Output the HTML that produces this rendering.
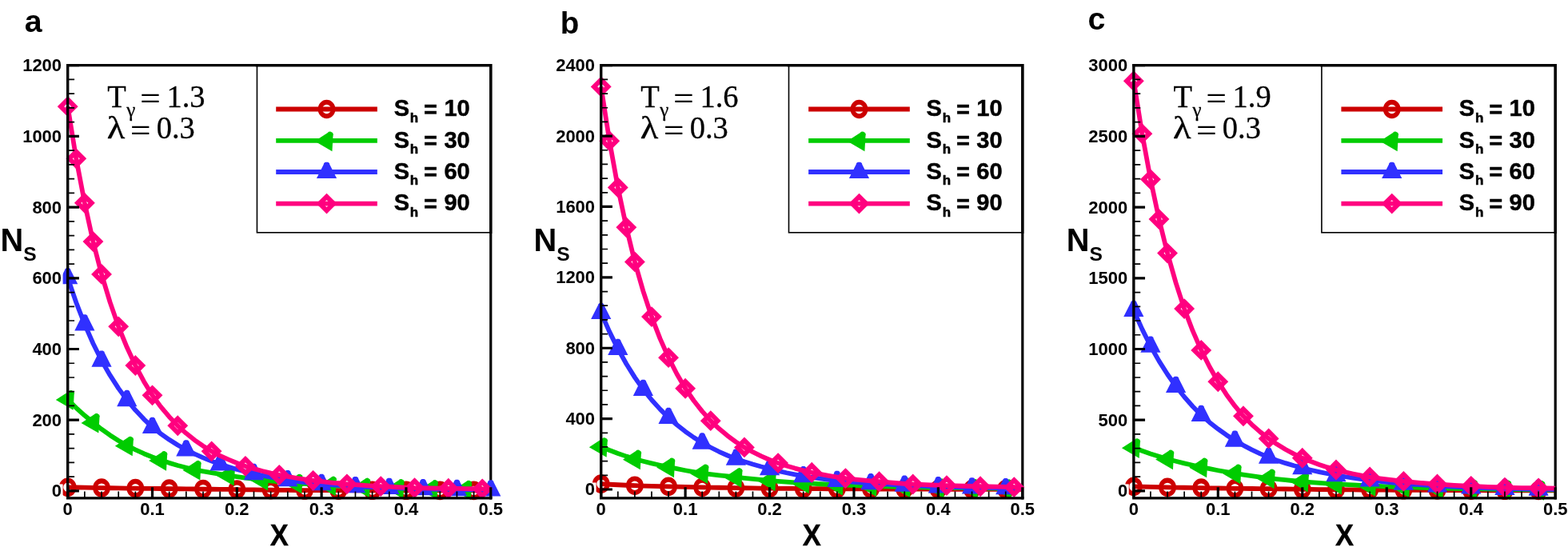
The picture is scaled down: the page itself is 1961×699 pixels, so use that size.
<!DOCTYPE html>
<html lang="en">
<head>
<meta charset="utf-8">
<title>Ns versus X</title>
<style>html,body{margin:0;padding:0;background:#fff;}svg{display:block;}</style>
</head>
<body>
<svg width="1961" height="699" viewBox="0 0 1961 699">
<rect x="0" y="0" width="1961" height="699" fill="#ffffff"/>
<g>
<path d="M83.1,81.7 H613.75 V624.5" fill="none" stroke="#000" stroke-width="3.2" stroke-linejoin="miter"/>
<path d="M84.7,609.29L95.28,609.5L105.86,609.71L116.44,609.9L127.02,610.09L137.61,610.24L148.19,610.39L158.77,610.53L169.35,610.66L179.93,610.78L190.51,610.89L201.09,611L211.67,611.11L222.25,611.24L232.83,611.36L243.41,611.48L254,611.59L264.58,611.73L275.16,611.85L285.74,611.97L296.32,612.08L306.9,612.28L317.48,612.45L328.06,612.61L338.64,612.75L349.22,612.83L359.81,612.91L370.39,612.99L380.97,613.06L391.55,613.09L402.13,613.13L412.71,613.16L423.29,613.19L433.87,613.21L444.45,613.24L455.03,613.26L465.62,613.28L476.2,613.29L486.78,613.3L497.36,613.31L507.94,613.32L518.52,613.33L529.1,613.35L539.68,613.36L550.26,613.37L560.85,613.38L571.43,613.39L582.01,613.4L592.59,613.41L603.17,613.43L613.75,613.46" fill="none" stroke="#cc0000" stroke-width="5.8" stroke-linejoin="round" stroke-linecap="butt"/>
<path transform="translate(84.7,609.29)" d="M-10.9,0A10.9,11.8 0 1 0 10.9,0A10.9,11.8 0 1 0 -10.9,0ZM-5.5,0A5.5,5.7 0 1 1 5.5,0A5.5,5.7 0 1 1 -5.5,0Z" fill="#cc0000" fill-rule="evenodd"/>
<path transform="translate(127.02,610.09)" d="M-10.9,0A10.9,11.8 0 1 0 10.9,0A10.9,11.8 0 1 0 -10.9,0ZM-5.5,0A5.5,5.7 0 1 1 5.5,0A5.5,5.7 0 1 1 -5.5,0Z" fill="#cc0000" fill-rule="evenodd"/>
<path transform="translate(169.35,610.66)" d="M-10.9,0A10.9,11.8 0 1 0 10.9,0A10.9,11.8 0 1 0 -10.9,0ZM-5.5,0A5.5,5.7 0 1 1 5.5,0A5.5,5.7 0 1 1 -5.5,0Z" fill="#cc0000" fill-rule="evenodd"/>
<path transform="translate(211.67,611.11)" d="M-10.9,0A10.9,11.8 0 1 0 10.9,0A10.9,11.8 0 1 0 -10.9,0ZM-5.5,0A5.5,5.7 0 1 1 5.5,0A5.5,5.7 0 1 1 -5.5,0Z" fill="#cc0000" fill-rule="evenodd"/>
<path transform="translate(254,611.59)" d="M-10.9,0A10.9,11.8 0 1 0 10.9,0A10.9,11.8 0 1 0 -10.9,0ZM-5.5,0A5.5,5.7 0 1 1 5.5,0A5.5,5.7 0 1 1 -5.5,0Z" fill="#cc0000" fill-rule="evenodd"/>
<path transform="translate(296.32,612.08)" d="M-10.9,0A10.9,11.8 0 1 0 10.9,0A10.9,11.8 0 1 0 -10.9,0ZM-5.5,0A5.5,5.7 0 1 1 5.5,0A5.5,5.7 0 1 1 -5.5,0Z" fill="#cc0000" fill-rule="evenodd"/>
<path transform="translate(338.64,612.75)" d="M-10.9,0A10.9,11.8 0 1 0 10.9,0A10.9,11.8 0 1 0 -10.9,0ZM-5.5,0A5.5,5.7 0 1 1 5.5,0A5.5,5.7 0 1 1 -5.5,0Z" fill="#cc0000" fill-rule="evenodd"/>
<path transform="translate(380.97,613.06)" d="M-10.9,0A10.9,11.8 0 1 0 10.9,0A10.9,11.8 0 1 0 -10.9,0ZM-5.5,0A5.5,5.7 0 1 1 5.5,0A5.5,5.7 0 1 1 -5.5,0Z" fill="#cc0000" fill-rule="evenodd"/>
<path transform="translate(423.29,613.19)" d="M-10.9,0A10.9,11.8 0 1 0 10.9,0A10.9,11.8 0 1 0 -10.9,0ZM-5.5,0A5.5,5.7 0 1 1 5.5,0A5.5,5.7 0 1 1 -5.5,0Z" fill="#cc0000" fill-rule="evenodd"/>
<path transform="translate(465.62,613.28)" d="M-10.9,0A10.9,11.8 0 1 0 10.9,0A10.9,11.8 0 1 0 -10.9,0ZM-5.5,0A5.5,5.7 0 1 1 5.5,0A5.5,5.7 0 1 1 -5.5,0Z" fill="#cc0000" fill-rule="evenodd"/>
<path transform="translate(507.94,613.32)" d="M-10.9,0A10.9,11.8 0 1 0 10.9,0A10.9,11.8 0 1 0 -10.9,0ZM-5.5,0A5.5,5.7 0 1 1 5.5,0A5.5,5.7 0 1 1 -5.5,0Z" fill="#cc0000" fill-rule="evenodd"/>
<path transform="translate(550.26,613.37)" d="M-10.9,0A10.9,11.8 0 1 0 10.9,0A10.9,11.8 0 1 0 -10.9,0ZM-5.5,0A5.5,5.7 0 1 1 5.5,0A5.5,5.7 0 1 1 -5.5,0Z" fill="#cc0000" fill-rule="evenodd"/>
<path transform="translate(592.59,613.41)" d="M-10.9,0A10.9,11.8 0 1 0 10.9,0A10.9,11.8 0 1 0 -10.9,0ZM-5.5,0A5.5,5.7 0 1 1 5.5,0A5.5,5.7 0 1 1 -5.5,0Z" fill="#cc0000" fill-rule="evenodd"/>
<path d="M84.7,499.48L95.28,510.03L105.86,519.61L116.44,528.3L127.02,536.66L137.61,544.19L148.19,550.99L158.77,557.13L169.35,562.42L179.93,567.21L190.51,571.55L201.09,575.49L211.67,578.86L222.25,581.93L232.83,584.73L243.41,587.29L254,589.28L264.58,591.11L275.16,592.81L285.74,594.39L296.32,596.02L306.9,597.52L317.48,598.89L328.06,600.15L338.64,601.28L349.22,602.32L359.81,603.27L370.39,604.14L380.97,604.96L391.55,605.71L402.13,606.4L412.71,607.03L423.29,607.59L433.87,608.11L444.45,608.58L455.03,609.02L465.62,609.42L476.2,609.79L486.78,610.13L497.36,610.44L507.94,610.72L518.52,610.97L529.1,611.2L539.68,611.42L550.26,611.62L560.84,611.8L571.43,611.97L582.01,612.13L592.59,612.25L603.17,612.37L613.75,612.48" fill="none" stroke="#00cc00" stroke-width="5.8" stroke-linejoin="round" stroke-linecap="butt"/>
<path transform="translate(84.7,499.48) rotate(30)" d="M-12.6,8L12.6,8L3.84,-9.35L3.4,-10.9L1.6,-12.3L-1.6,-12.3L-3.4,-10.9L-3.84,-9.35Z" fill="#00cc00"/>
<path transform="translate(116.44,528.3) rotate(30)" d="M-12.6,8L12.6,8L3.84,-9.35L3.4,-10.9L1.6,-12.3L-1.6,-12.3L-3.4,-10.9L-3.84,-9.35Z" fill="#00cc00"/>
<path transform="translate(158.77,557.13) rotate(30)" d="M-12.6,8L12.6,8L3.84,-9.35L3.4,-10.9L1.6,-12.3L-1.6,-12.3L-3.4,-10.9L-3.84,-9.35Z" fill="#00cc00"/>
<path transform="translate(201.09,575.49) rotate(30)" d="M-12.6,8L12.6,8L3.84,-9.35L3.4,-10.9L1.6,-12.3L-1.6,-12.3L-3.4,-10.9L-3.84,-9.35Z" fill="#00cc00"/>
<path transform="translate(243.41,587.29) rotate(30)" d="M-12.6,8L12.6,8L3.84,-9.35L3.4,-10.9L1.6,-12.3L-1.6,-12.3L-3.4,-10.9L-3.84,-9.35Z" fill="#00cc00"/>
<path transform="translate(285.74,594.39) rotate(30)" d="M-12.6,8L12.6,8L3.84,-9.35L3.4,-10.9L1.6,-12.3L-1.6,-12.3L-3.4,-10.9L-3.84,-9.35Z" fill="#00cc00"/>
<path transform="translate(328.06,600.15) rotate(30)" d="M-12.6,8L12.6,8L3.84,-9.35L3.4,-10.9L1.6,-12.3L-1.6,-12.3L-3.4,-10.9L-3.84,-9.35Z" fill="#00cc00"/>
<path transform="translate(370.39,604.14) rotate(30)" d="M-12.6,8L12.6,8L3.84,-9.35L3.4,-10.9L1.6,-12.3L-1.6,-12.3L-3.4,-10.9L-3.84,-9.35Z" fill="#00cc00"/>
<path transform="translate(412.71,607.03) rotate(30)" d="M-12.6,8L12.6,8L3.84,-9.35L3.4,-10.9L1.6,-12.3L-1.6,-12.3L-3.4,-10.9L-3.84,-9.35Z" fill="#00cc00"/>
<path transform="translate(455.03,609.02) rotate(30)" d="M-12.6,8L12.6,8L3.84,-9.35L3.4,-10.9L1.6,-12.3L-1.6,-12.3L-3.4,-10.9L-3.84,-9.35Z" fill="#00cc00"/>
<path transform="translate(497.36,610.44) rotate(30)" d="M-12.6,8L12.6,8L3.84,-9.35L3.4,-10.9L1.6,-12.3L-1.6,-12.3L-3.4,-10.9L-3.84,-9.35Z" fill="#00cc00"/>
<path transform="translate(539.68,611.42) rotate(30)" d="M-12.6,8L12.6,8L3.84,-9.35L3.4,-10.9L1.6,-12.3L-1.6,-12.3L-3.4,-10.9L-3.84,-9.35Z" fill="#00cc00"/>
<path transform="translate(582.01,612.13) rotate(30)" d="M-12.6,8L12.6,8L3.84,-9.35L3.4,-10.9L1.6,-12.3L-1.6,-12.3L-3.4,-10.9L-3.84,-9.35Z" fill="#00cc00"/>
<path d="M84.7,347.36L95.28,378.19L105.86,405.45L116.44,429.46L127.02,450.69L137.61,469.19L148.19,485.6L158.77,500.14L169.35,512.81L179.93,524.07L190.51,534.07L201.09,542.37L211.67,549.81L222.25,556.48L232.83,562.45L243.42,567.69L254,572.4L264.58,576.62L275.16,580.42L285.74,583.85L296.32,586.92L306.9,589.69L317.48,592.17L328.06,594.6L338.64,596.75L349.22,598.67L359.81,600.37L370.39,601.77L380.97,603.03L391.55,604.15L402.13,605.16L412.71,606.06L423.29,606.86L433.87,607.58L444.45,608.22L455.03,608.73L465.62,609.19L476.2,609.61L486.78,610L497.36,610.37L507.94,610.7L518.52,611.01L529.1,611.28L539.68,611.53L550.26,611.75L560.85,611.94L571.43,612.13L582.01,612.25L592.59,612.36L603.17,612.47L613.75,612.57" fill="none" stroke="#3030ff" stroke-width="5.8" stroke-linejoin="round" stroke-linecap="butt"/>
<path transform="translate(84.7,347.36)" d="M-12.6,8L12.6,8L3.84,-9.35L3.4,-10.9L1.6,-12.3L-1.6,-12.3L-3.4,-10.9L-3.84,-9.35Z" fill="#3030ff"/>
<path transform="translate(105.86,405.46)" d="M-12.6,8L12.6,8L3.84,-9.35L3.4,-10.9L1.6,-12.3L-1.6,-12.3L-3.4,-10.9L-3.84,-9.35Z" fill="#3030ff"/>
<path transform="translate(127.02,450.69)" d="M-12.6,8L12.6,8L3.84,-9.35L3.4,-10.9L1.6,-12.3L-1.6,-12.3L-3.4,-10.9L-3.84,-9.35Z" fill="#3030ff"/>
<path transform="translate(158.77,500.14)" d="M-12.6,8L12.6,8L3.84,-9.35L3.4,-10.9L1.6,-12.3L-1.6,-12.3L-3.4,-10.9L-3.84,-9.35Z" fill="#3030ff"/>
<path transform="translate(190.51,534.07)" d="M-12.6,8L12.6,8L3.84,-9.35L3.4,-10.9L1.6,-12.3L-1.6,-12.3L-3.4,-10.9L-3.84,-9.35Z" fill="#3030ff"/>
<path transform="translate(232.83,562.45)" d="M-12.6,8L12.6,8L3.84,-9.35L3.4,-10.9L1.6,-12.3L-1.6,-12.3L-3.4,-10.9L-3.84,-9.35Z" fill="#3030ff"/>
<path transform="translate(275.16,580.42)" d="M-12.6,8L12.6,8L3.84,-9.35L3.4,-10.9L1.6,-12.3L-1.6,-12.3L-3.4,-10.9L-3.84,-9.35Z" fill="#3030ff"/>
<path transform="translate(317.48,592.17)" d="M-12.6,8L12.6,8L3.84,-9.35L3.4,-10.9L1.6,-12.3L-1.6,-12.3L-3.4,-10.9L-3.84,-9.35Z" fill="#3030ff"/>
<path transform="translate(359.81,600.37)" d="M-12.6,8L12.6,8L3.84,-9.35L3.4,-10.9L1.6,-12.3L-1.6,-12.3L-3.4,-10.9L-3.84,-9.35Z" fill="#3030ff"/>
<path transform="translate(402.13,605.16)" d="M-12.6,8L12.6,8L3.84,-9.35L3.4,-10.9L1.6,-12.3L-1.6,-12.3L-3.4,-10.9L-3.84,-9.35Z" fill="#3030ff"/>
<path transform="translate(444.45,608.22)" d="M-12.6,8L12.6,8L3.84,-9.35L3.4,-10.9L1.6,-12.3L-1.6,-12.3L-3.4,-10.9L-3.84,-9.35Z" fill="#3030ff"/>
<path transform="translate(486.78,610)" d="M-12.6,8L12.6,8L3.84,-9.35L3.4,-10.9L1.6,-12.3L-1.6,-12.3L-3.4,-10.9L-3.84,-9.35Z" fill="#3030ff"/>
<path transform="translate(529.1,611.28)" d="M-12.6,8L12.6,8L3.84,-9.35L3.4,-10.9L1.6,-12.3L-1.6,-12.3L-3.4,-10.9L-3.84,-9.35Z" fill="#3030ff"/>
<path transform="translate(571.43,612.13)" d="M-12.6,8L12.6,8L3.84,-9.35L3.4,-10.9L1.6,-12.3L-1.6,-12.3L-3.4,-10.9L-3.84,-9.35Z" fill="#3030ff"/>
<path transform="translate(613.75,612.57)" d="M-12.6,8L12.6,8L3.84,-9.35L3.4,-10.9L1.6,-12.3L-1.6,-12.3L-3.4,-10.9L-3.84,-9.35Z" fill="#3030ff"/>
<path d="M84.7,133.15L95.28,198.34L105.86,253.78L116.44,302.12L127.02,342.92L137.61,377.89L148.19,408.34L158.77,434.33L169.35,457.03L179.93,476.95L190.51,494.33L201.09,508.63L211.67,521.21L222.25,532.3L232.83,541.85L243.42,550.29L254,557.74L264.58,564.32L275.16,569.81L285.74,574.69L296.32,579.04L306.9,582.9L317.48,586.13L328.06,589.03L338.64,591.62L349.22,593.94L359.81,595.94L370.39,597.74L380.97,599.36L391.55,600.82L402.13,602.13L412.71,603.32L423.29,604.38L433.87,605.34L444.45,606.15L455.03,606.88L465.62,607.54L476.2,608.13L486.78,608.72L497.36,609.24L507.94,609.71L518.52,610.13L529.1,610.31L539.68,610.48L550.26,610.64L560.85,610.8L571.43,610.96L582.01,611.12L592.59,611.27L603.17,611.42L613.75,611.51" fill="none" stroke="#ff007f" stroke-width="5.8" stroke-linejoin="round" stroke-linecap="butt"/>
<path transform="translate(84.7,133.15)" d="M0,-8.7L8.7,0L0,8.7L-8.7,0Z" fill="none" stroke="#ff007f" stroke-width="6" stroke-linejoin="miter"/>
<path transform="translate(95.28,198.34)" d="M0,-8.7L8.7,0L0,8.7L-8.7,0Z" fill="none" stroke="#ff007f" stroke-width="6" stroke-linejoin="miter"/>
<path transform="translate(105.86,253.78)" d="M0,-8.7L8.7,0L0,8.7L-8.7,0Z" fill="none" stroke="#ff007f" stroke-width="6" stroke-linejoin="miter"/>
<path transform="translate(116.44,302.12)" d="M0,-8.7L8.7,0L0,8.7L-8.7,0Z" fill="none" stroke="#ff007f" stroke-width="6" stroke-linejoin="miter"/>
<path transform="translate(127.02,342.92)" d="M0,-8.7L8.7,0L0,8.7L-8.7,0Z" fill="none" stroke="#ff007f" stroke-width="6" stroke-linejoin="miter"/>
<path transform="translate(148.19,408.34)" d="M0,-8.7L8.7,0L0,8.7L-8.7,0Z" fill="none" stroke="#ff007f" stroke-width="6" stroke-linejoin="miter"/>
<path transform="translate(169.35,457.03)" d="M0,-8.7L8.7,0L0,8.7L-8.7,0Z" fill="none" stroke="#ff007f" stroke-width="6" stroke-linejoin="miter"/>
<path transform="translate(190.51,494.33)" d="M0,-8.7L8.7,0L0,8.7L-8.7,0Z" fill="none" stroke="#ff007f" stroke-width="6" stroke-linejoin="miter"/>
<path transform="translate(222.25,532.3)" d="M0,-8.7L8.7,0L0,8.7L-8.7,0Z" fill="none" stroke="#ff007f" stroke-width="6" stroke-linejoin="miter"/>
<path transform="translate(264.58,564.32)" d="M0,-8.7L8.7,0L0,8.7L-8.7,0Z" fill="none" stroke="#ff007f" stroke-width="6" stroke-linejoin="miter"/>
<path transform="translate(306.9,582.9)" d="M0,-8.7L8.7,0L0,8.7L-8.7,0Z" fill="none" stroke="#ff007f" stroke-width="6" stroke-linejoin="miter"/>
<path transform="translate(349.22,593.94)" d="M0,-8.7L8.7,0L0,8.7L-8.7,0Z" fill="none" stroke="#ff007f" stroke-width="6" stroke-linejoin="miter"/>
<path transform="translate(391.55,600.82)" d="M0,-8.7L8.7,0L0,8.7L-8.7,0Z" fill="none" stroke="#ff007f" stroke-width="6" stroke-linejoin="miter"/>
<path transform="translate(433.87,605.34)" d="M0,-8.7L8.7,0L0,8.7L-8.7,0Z" fill="none" stroke="#ff007f" stroke-width="6" stroke-linejoin="miter"/>
<path transform="translate(476.2,608.13)" d="M0,-8.7L8.7,0L0,8.7L-8.7,0Z" fill="none" stroke="#ff007f" stroke-width="6" stroke-linejoin="miter"/>
<path transform="translate(518.52,610.13)" d="M0,-8.7L8.7,0L0,8.7L-8.7,0Z" fill="none" stroke="#ff007f" stroke-width="6" stroke-linejoin="miter"/>
<path transform="translate(560.85,610.8)" d="M0,-8.7L8.7,0L0,8.7L-8.7,0Z" fill="none" stroke="#ff007f" stroke-width="6" stroke-linejoin="miter"/>
<path transform="translate(603.17,611.42)" d="M0,-8.7L8.7,0L0,8.7L-8.7,0Z" fill="none" stroke="#ff007f" stroke-width="6" stroke-linejoin="miter"/>
<path d="M84.7,80.1 V622.9 H615.45" fill="none" stroke="#000" stroke-width="3.4" stroke-linejoin="miter" stroke-linecap="butt"/>
<path d="M84.7,613.9h14.2M84.7,525.2h14.2M84.7,436.5h14.2M84.7,347.8h14.2M84.7,259.1h14.2M84.7,170.4h14.2M84.7,81.7h14.2M84.7,622.9v-13.7M190.51,622.9v-13.7M296.32,622.9v-13.7M402.13,622.9v-13.7M507.94,622.9v-13.7M613.75,622.9v-13.7" fill="none" stroke="#000" stroke-width="3.2"/>
<path d="M84.7,596.16h8.4M84.7,578.42h8.4M84.7,560.68h8.4M84.7,542.94h8.4M84.7,507.46h8.4M84.7,489.72h8.4M84.7,471.98h8.4M84.7,454.24h8.4M84.7,418.76h8.4M84.7,401.02h8.4M84.7,383.28h8.4M84.7,365.54h8.4M84.7,330.06h8.4M84.7,312.32h8.4M84.7,294.58h8.4M84.7,276.84h8.4M84.7,241.36h8.4M84.7,223.62h8.4M84.7,205.88h8.4M84.7,188.14h8.4M84.7,152.66h8.4M84.7,134.92h8.4M84.7,117.18h8.4M84.7,99.44h8.4M105.86,622.9v-8.3M127.02,622.9v-8.3M148.19,622.9v-8.3M169.35,622.9v-8.3M211.67,622.9v-8.3M232.83,622.9v-8.3M254,622.9v-8.3M275.16,622.9v-8.3M317.48,622.9v-8.3M338.64,622.9v-8.3M359.81,622.9v-8.3M380.97,622.9v-8.3M423.29,622.9v-8.3M444.45,622.9v-8.3M465.62,622.9v-8.3M486.78,622.9v-8.3M529.1,622.9v-8.3M550.26,622.9v-8.3M571.43,622.9v-8.3M592.59,622.9v-8.3" fill="none" stroke="#000" stroke-width="1.7"/>
<g font-family='"Liberation Sans", Arial, Helvetica, sans-serif' font-weight="bold" font-size="22px" fill="#000">
<rect x="64.3" y="605.4" width="14.3" height="17" fill="#fff"/>
<text x="77.1" y="621.35" text-anchor="end">0</text>
<rect x="39.7" y="516.7" width="38.9" height="17" fill="#fff"/>
<text x="77.1" y="532.65" text-anchor="end">200</text>
<rect x="39.7" y="428" width="38.9" height="17" fill="#fff"/>
<text x="77.1" y="443.95" text-anchor="end">400</text>
<rect x="39.7" y="339.3" width="38.9" height="17" fill="#fff"/>
<text x="77.1" y="355.25" text-anchor="end">600</text>
<rect x="39.7" y="250.6" width="38.9" height="17" fill="#fff"/>
<text x="77.1" y="266.55" text-anchor="end">800</text>
<rect x="27.4" y="161.9" width="51.2" height="17" fill="#fff"/>
<text x="77.1" y="177.85" text-anchor="end">1000</text>
<rect x="27.4" y="73.2" width="51.2" height="17" fill="#fff"/>
<text x="77.1" y="89.15" text-anchor="end">1200</text>
<text x="84.7" y="644.4" text-anchor="middle">0</text>
<text x="190.51" y="644.4" text-anchor="middle">0.1</text>
<text x="296.32" y="644.4" text-anchor="middle">0.2</text>
<text x="402.13" y="644.4" text-anchor="middle">0.3</text>
<text x="507.94" y="644.4" text-anchor="middle">0.4</text>
<text x="613.75" y="644.4" text-anchor="middle">0.5</text>
</g>
<text transform="translate(349.23,682.1) scale(0.96,1)" text-anchor="middle" font-family='"Liberation Sans", Arial, Helvetica, sans-serif' font-weight="bold" font-size="36px" fill="#000" stroke="#000" stroke-width="0.4">X</text>
<text x="0.5" y="313.5" font-family='"Liberation Sans", Arial, Helvetica, sans-serif' font-weight="bold" font-size="39.8px" fill="#000">N</text>
<text x="29.3" y="326.3" font-family='"Liberation Sans", Arial, Helvetica, sans-serif' font-weight="bold" font-size="24.6px" fill="#000">S</text>
<text x="30.85" y="40" font-family='"Liberation Sans", Arial, Helvetica, sans-serif' font-weight="bold" font-size="39.3px" fill="#000">a</text>
<g font-family='"Liberation Serif", "Times New Roman", Times, serif' font-size="40px" fill="#000" stroke="#000" stroke-width="0.3">
<text transform="translate(134.35,134) scale(0.9625,1)">T</text>
<text x="158.3" y="145.75" font-size="25px">γ</text>
<text transform="translate(175.3,136.4) scale(1.167,1)" font-size="38.5px">=</text>
<text transform="translate(208.4,134) scale(0.9625,1)">1.3</text>
<text transform="translate(133.8,172.9) scale(1.21,1.04)" font-size="38.5px">λ</text>
<text transform="translate(163.1,175.7) scale(1.167,1)" font-size="38.5px">=</text>
<text transform="translate(195.7,172.8) scale(0.9625,1)">0.3</text>
</g>
<rect x="321.45" y="82.5" width="291.5" height="208.3" fill="#fff" stroke="#000" stroke-width="1.6"/>
<path d="M319.45,81.7 H613.75 V292" fill="none" stroke="#000" stroke-width="3.2" stroke-linejoin="miter"/>
<path d="M345.2,136.5H471.85" stroke="#cc0000" stroke-width="5.8" fill="none"/>
<path transform="translate(408.52,136.5)" d="M-10.9,0A10.9,11.8 0 1 0 10.9,0A10.9,11.8 0 1 0 -10.9,0ZM-5.5,0A5.5,5.7 0 1 1 5.5,0A5.5,5.7 0 1 1 -5.5,0Z" fill="#cc0000" fill-rule="evenodd"/>
<g font-family='"Liberation Sans", Arial, Helvetica, sans-serif' font-weight="bold" font-size="29px" fill="#000" stroke="#000" stroke-width="0.5" stroke-linejoin="round">
<text x="492.65" y="145.2">S</text>
<text x="512.7" y="152.55" font-size="17px">h</text>
<text x="529.95" y="146.7">=</text>
<text x="555.4" y="145.2">10</text>
</g>
<path d="M345.2,175.9H471.85" stroke="#00cc00" stroke-width="5.8" fill="none"/>
<path transform="translate(408.52,175.9) rotate(30)" d="M-12.6,8L12.6,8L3.84,-9.35L3.4,-10.9L1.6,-12.3L-1.6,-12.3L-3.4,-10.9L-3.84,-9.35Z" fill="#00cc00"/>
<g font-family='"Liberation Sans", Arial, Helvetica, sans-serif' font-weight="bold" font-size="29px" fill="#000" stroke="#000" stroke-width="0.5" stroke-linejoin="round">
<text x="492.65" y="184.6">S</text>
<text x="512.7" y="191.95" font-size="17px">h</text>
<text x="529.95" y="186.1">=</text>
<text x="555.4" y="184.6">30</text>
</g>
<path d="M345.2,215H471.85" stroke="#3030ff" stroke-width="5.8" fill="none"/>
<path transform="translate(408.52,215)" d="M-12.6,8L12.6,8L3.84,-9.35L3.4,-10.9L1.6,-12.3L-1.6,-12.3L-3.4,-10.9L-3.84,-9.35Z" fill="#3030ff"/>
<g font-family='"Liberation Sans", Arial, Helvetica, sans-serif' font-weight="bold" font-size="29px" fill="#000" stroke="#000" stroke-width="0.5" stroke-linejoin="round">
<text x="492.65" y="223.7">S</text>
<text x="512.7" y="231.05" font-size="17px">h</text>
<text x="529.95" y="225.2">=</text>
<text x="555.4" y="223.7">60</text>
</g>
<path d="M345.2,254.6H471.85" stroke="#ff007f" stroke-width="5.8" fill="none"/>
<path transform="translate(408.52,254.6)" d="M0,-8.7L8.7,0L0,8.7L-8.7,0Z" fill="none" stroke="#ff007f" stroke-width="6" stroke-linejoin="miter"/>
<g font-family='"Liberation Sans", Arial, Helvetica, sans-serif' font-weight="bold" font-size="29px" fill="#000" stroke="#000" stroke-width="0.5" stroke-linejoin="round">
<text x="492.65" y="263.3">S</text>
<text x="512.7" y="270.65" font-size="17px">h</text>
<text x="529.95" y="264.8">=</text>
<text x="555.4" y="263.3">90</text>
</g>
</g>
<g>
<path d="M750.1,81.7 H1278.8 V624.5" fill="none" stroke="#000" stroke-width="3.2" stroke-linejoin="miter"/>
<path d="M751.7,605.15L762.24,605.73L772.78,606.27L783.33,606.76L793.87,607.21L804.41,607.54L814.95,607.84L825.49,608.13L836.04,608.4L846.58,608.68L857.12,608.94L867.66,609.17L878.2,609.39L888.75,609.59L899.29,609.77L909.83,609.94L920.37,610.1L930.91,610.26L941.46,610.41L952,610.55L962.54,610.67L973.08,610.78L983.62,610.88L994.17,610.97L1004.71,611.05L1015.25,611.12L1025.79,611.19L1036.33,611.26L1046.88,611.32L1057.42,611.37L1067.96,611.42L1078.5,611.47L1089.04,611.51L1099.59,611.55L1110.13,611.59L1120.67,611.62L1131.21,611.65L1141.75,611.67L1152.3,611.69L1162.84,611.72L1173.38,611.73L1183.92,611.75L1194.46,611.77L1205.01,611.79L1215.55,611.8L1226.09,611.81L1236.63,611.82L1247.17,611.84L1257.72,611.85L1268.26,611.86L1278.8,611.87" fill="none" stroke="#cc0000" stroke-width="5.8" stroke-linejoin="round" stroke-linecap="butt"/>
<path transform="translate(751.7,605.15)" d="M-10.9,0A10.9,11.8 0 1 0 10.9,0A10.9,11.8 0 1 0 -10.9,0ZM-5.5,0A5.5,5.7 0 1 1 5.5,0A5.5,5.7 0 1 1 -5.5,0Z" fill="#cc0000" fill-rule="evenodd"/>
<path transform="translate(793.87,607.21)" d="M-10.9,0A10.9,11.8 0 1 0 10.9,0A10.9,11.8 0 1 0 -10.9,0ZM-5.5,0A5.5,5.7 0 1 1 5.5,0A5.5,5.7 0 1 1 -5.5,0Z" fill="#cc0000" fill-rule="evenodd"/>
<path transform="translate(836.04,608.4)" d="M-10.9,0A10.9,11.8 0 1 0 10.9,0A10.9,11.8 0 1 0 -10.9,0ZM-5.5,0A5.5,5.7 0 1 1 5.5,0A5.5,5.7 0 1 1 -5.5,0Z" fill="#cc0000" fill-rule="evenodd"/>
<path transform="translate(878.2,609.39)" d="M-10.9,0A10.9,11.8 0 1 0 10.9,0A10.9,11.8 0 1 0 -10.9,0ZM-5.5,0A5.5,5.7 0 1 1 5.5,0A5.5,5.7 0 1 1 -5.5,0Z" fill="#cc0000" fill-rule="evenodd"/>
<path transform="translate(920.37,610.1)" d="M-10.9,0A10.9,11.8 0 1 0 10.9,0A10.9,11.8 0 1 0 -10.9,0ZM-5.5,0A5.5,5.7 0 1 1 5.5,0A5.5,5.7 0 1 1 -5.5,0Z" fill="#cc0000" fill-rule="evenodd"/>
<path transform="translate(962.54,610.67)" d="M-10.9,0A10.9,11.8 0 1 0 10.9,0A10.9,11.8 0 1 0 -10.9,0ZM-5.5,0A5.5,5.7 0 1 1 5.5,0A5.5,5.7 0 1 1 -5.5,0Z" fill="#cc0000" fill-rule="evenodd"/>
<path transform="translate(1004.71,611.05)" d="M-10.9,0A10.9,11.8 0 1 0 10.9,0A10.9,11.8 0 1 0 -10.9,0ZM-5.5,0A5.5,5.7 0 1 1 5.5,0A5.5,5.7 0 1 1 -5.5,0Z" fill="#cc0000" fill-rule="evenodd"/>
<path transform="translate(1046.88,611.32)" d="M-10.9,0A10.9,11.8 0 1 0 10.9,0A10.9,11.8 0 1 0 -10.9,0ZM-5.5,0A5.5,5.7 0 1 1 5.5,0A5.5,5.7 0 1 1 -5.5,0Z" fill="#cc0000" fill-rule="evenodd"/>
<path transform="translate(1089.04,611.51)" d="M-10.9,0A10.9,11.8 0 1 0 10.9,0A10.9,11.8 0 1 0 -10.9,0ZM-5.5,0A5.5,5.7 0 1 1 5.5,0A5.5,5.7 0 1 1 -5.5,0Z" fill="#cc0000" fill-rule="evenodd"/>
<path transform="translate(1131.21,611.65)" d="M-10.9,0A10.9,11.8 0 1 0 10.9,0A10.9,11.8 0 1 0 -10.9,0ZM-5.5,0A5.5,5.7 0 1 1 5.5,0A5.5,5.7 0 1 1 -5.5,0Z" fill="#cc0000" fill-rule="evenodd"/>
<path transform="translate(1173.38,611.73)" d="M-10.9,0A10.9,11.8 0 1 0 10.9,0A10.9,11.8 0 1 0 -10.9,0ZM-5.5,0A5.5,5.7 0 1 1 5.5,0A5.5,5.7 0 1 1 -5.5,0Z" fill="#cc0000" fill-rule="evenodd"/>
<path transform="translate(1215.55,611.8)" d="M-10.9,0A10.9,11.8 0 1 0 10.9,0A10.9,11.8 0 1 0 -10.9,0ZM-5.5,0A5.5,5.7 0 1 1 5.5,0A5.5,5.7 0 1 1 -5.5,0Z" fill="#cc0000" fill-rule="evenodd"/>
<path transform="translate(1257.72,611.85)" d="M-10.9,0A10.9,11.8 0 1 0 10.9,0A10.9,11.8 0 1 0 -10.9,0ZM-5.5,0A5.5,5.7 0 1 1 5.5,0A5.5,5.7 0 1 1 -5.5,0Z" fill="#cc0000" fill-rule="evenodd"/>
<path d="M751.7,558.64L762.24,562.98L772.78,566.97L783.33,570.63L793.87,574L804.41,576.77L814.95,579.34L825.49,581.73L836.04,583.94L846.58,586.18L857.12,588.25L867.66,590.15L878.2,591.89L888.75,593.17L899.29,594.36L909.83,595.48L920.37,596.53L930.91,597.78L941.46,598.93L952,599.98L962.54,600.95L973.08,601.82L983.62,602.63L994.17,603.36L1004.71,604.05L1015.25,604.67L1025.79,605.24L1036.33,605.77L1046.88,606.26L1057.42,606.69L1067.96,607.09L1078.5,607.46L1089.04,607.8L1099.59,608.11L1110.13,608.4L1120.67,608.66L1131.21,608.91L1141.75,609.16L1152.3,609.39L1162.84,609.6L1173.38,609.79L1183.92,609.94L1194.46,610.09L1205.01,610.22L1215.55,610.34L1226.09,610.47L1236.63,610.58L1247.17,610.69L1257.72,610.78L1268.26,610.84L1278.8,610.9" fill="none" stroke="#00cc00" stroke-width="5.8" stroke-linejoin="round" stroke-linecap="butt"/>
<path transform="translate(751.7,558.64) rotate(30)" d="M-12.6,8L12.6,8L3.84,-9.35L3.4,-10.9L1.6,-12.3L-1.6,-12.3L-3.4,-10.9L-3.84,-9.35Z" fill="#00cc00"/>
<path transform="translate(793.87,574) rotate(30)" d="M-12.6,8L12.6,8L3.84,-9.35L3.4,-10.9L1.6,-12.3L-1.6,-12.3L-3.4,-10.9L-3.84,-9.35Z" fill="#00cc00"/>
<path transform="translate(836.04,583.94) rotate(30)" d="M-12.6,8L12.6,8L3.84,-9.35L3.4,-10.9L1.6,-12.3L-1.6,-12.3L-3.4,-10.9L-3.84,-9.35Z" fill="#00cc00"/>
<path transform="translate(878.2,591.89) rotate(30)" d="M-12.6,8L12.6,8L3.84,-9.35L3.4,-10.9L1.6,-12.3L-1.6,-12.3L-3.4,-10.9L-3.84,-9.35Z" fill="#00cc00"/>
<path transform="translate(920.37,596.53) rotate(30)" d="M-12.6,8L12.6,8L3.84,-9.35L3.4,-10.9L1.6,-12.3L-1.6,-12.3L-3.4,-10.9L-3.84,-9.35Z" fill="#00cc00"/>
<path transform="translate(962.54,600.95) rotate(30)" d="M-12.6,8L12.6,8L3.84,-9.35L3.4,-10.9L1.6,-12.3L-1.6,-12.3L-3.4,-10.9L-3.84,-9.35Z" fill="#00cc00"/>
<path transform="translate(1004.71,604.05) rotate(30)" d="M-12.6,8L12.6,8L3.84,-9.35L3.4,-10.9L1.6,-12.3L-1.6,-12.3L-3.4,-10.9L-3.84,-9.35Z" fill="#00cc00"/>
<path transform="translate(1046.88,606.26) rotate(30)" d="M-12.6,8L12.6,8L3.84,-9.35L3.4,-10.9L1.6,-12.3L-1.6,-12.3L-3.4,-10.9L-3.84,-9.35Z" fill="#00cc00"/>
<path transform="translate(1089.04,607.8) rotate(30)" d="M-12.6,8L12.6,8L3.84,-9.35L3.4,-10.9L1.6,-12.3L-1.6,-12.3L-3.4,-10.9L-3.84,-9.35Z" fill="#00cc00"/>
<path transform="translate(1131.21,608.91) rotate(30)" d="M-12.6,8L12.6,8L3.84,-9.35L3.4,-10.9L1.6,-12.3L-1.6,-12.3L-3.4,-10.9L-3.84,-9.35Z" fill="#00cc00"/>
<path transform="translate(1173.38,609.79) rotate(30)" d="M-12.6,8L12.6,8L3.84,-9.35L3.4,-10.9L1.6,-12.3L-1.6,-12.3L-3.4,-10.9L-3.84,-9.35Z" fill="#00cc00"/>
<path transform="translate(1215.55,610.34) rotate(30)" d="M-12.6,8L12.6,8L3.84,-9.35L3.4,-10.9L1.6,-12.3L-1.6,-12.3L-3.4,-10.9L-3.84,-9.35Z" fill="#00cc00"/>
<path transform="translate(1257.72,610.78) rotate(30)" d="M-12.6,8L12.6,8L3.84,-9.35L3.4,-10.9L1.6,-12.3L-1.6,-12.3L-3.4,-10.9L-3.84,-9.35Z" fill="#00cc00"/>
<path d="M751.7,391.04L762.24,414.86L772.78,436.12L783.33,455.02L793.87,471.88L804.41,486.94L814.95,499.96L825.49,511.62L836.04,522.07L846.58,531.29L857.12,539.57L867.66,547L878.2,553.67L888.75,559.52L899.29,564.78L909.83,569.51L920.37,573.77L930.91,577.33L941.46,580.56L952,583.49L962.54,586.15L973.08,588.82L983.62,591.22L994.17,593.37L1004.71,595.3L1015.25,596.95L1025.79,598.44L1036.33,599.79L1046.88,601L1057.42,601.93L1067.96,602.79L1078.5,603.57L1089.04,604.29L1099.59,605.01L1110.13,605.67L1120.67,606.27L1131.21,606.81L1141.75,607.26L1152.3,607.68L1162.84,608.05L1173.38,608.4L1183.92,608.71L1194.46,609L1205.01,609.26L1215.55,609.5L1226.09,609.75L1236.63,609.97L1247.17,610.16L1257.72,610.34L1268.26,610.46L1278.8,610.56" fill="none" stroke="#3030ff" stroke-width="5.8" stroke-linejoin="round" stroke-linecap="butt"/>
<path transform="translate(751.7,391.04)" d="M-12.6,8L12.6,8L3.84,-9.35L3.4,-10.9L1.6,-12.3L-1.6,-12.3L-3.4,-10.9L-3.84,-9.35Z" fill="#3030ff"/>
<path transform="translate(772.78,436.12)" d="M-12.6,8L12.6,8L3.84,-9.35L3.4,-10.9L1.6,-12.3L-1.6,-12.3L-3.4,-10.9L-3.84,-9.35Z" fill="#3030ff"/>
<path transform="translate(804.41,486.94)" d="M-12.6,8L12.6,8L3.84,-9.35L3.4,-10.9L1.6,-12.3L-1.6,-12.3L-3.4,-10.9L-3.84,-9.35Z" fill="#3030ff"/>
<path transform="translate(836.04,522.07)" d="M-12.6,8L12.6,8L3.84,-9.35L3.4,-10.9L1.6,-12.3L-1.6,-12.3L-3.4,-10.9L-3.84,-9.35Z" fill="#3030ff"/>
<path transform="translate(878.2,553.67)" d="M-12.6,8L12.6,8L3.84,-9.35L3.4,-10.9L1.6,-12.3L-1.6,-12.3L-3.4,-10.9L-3.84,-9.35Z" fill="#3030ff"/>
<path transform="translate(920.37,573.77)" d="M-12.6,8L12.6,8L3.84,-9.35L3.4,-10.9L1.6,-12.3L-1.6,-12.3L-3.4,-10.9L-3.84,-9.35Z" fill="#3030ff"/>
<path transform="translate(962.54,586.15)" d="M-12.6,8L12.6,8L3.84,-9.35L3.4,-10.9L1.6,-12.3L-1.6,-12.3L-3.4,-10.9L-3.84,-9.35Z" fill="#3030ff"/>
<path transform="translate(1004.71,595.3)" d="M-12.6,8L12.6,8L3.84,-9.35L3.4,-10.9L1.6,-12.3L-1.6,-12.3L-3.4,-10.9L-3.84,-9.35Z" fill="#3030ff"/>
<path transform="translate(1046.88,601)" d="M-12.6,8L12.6,8L3.84,-9.35L3.4,-10.9L1.6,-12.3L-1.6,-12.3L-3.4,-10.9L-3.84,-9.35Z" fill="#3030ff"/>
<path transform="translate(1089.04,604.29)" d="M-12.6,8L12.6,8L3.84,-9.35L3.4,-10.9L1.6,-12.3L-1.6,-12.3L-3.4,-10.9L-3.84,-9.35Z" fill="#3030ff"/>
<path transform="translate(1131.21,606.81)" d="M-12.6,8L12.6,8L3.84,-9.35L3.4,-10.9L1.6,-12.3L-1.6,-12.3L-3.4,-10.9L-3.84,-9.35Z" fill="#3030ff"/>
<path transform="translate(1173.38,608.4)" d="M-12.6,8L12.6,8L3.84,-9.35L3.4,-10.9L1.6,-12.3L-1.6,-12.3L-3.4,-10.9L-3.84,-9.35Z" fill="#3030ff"/>
<path transform="translate(1215.55,609.5)" d="M-12.6,8L12.6,8L3.84,-9.35L3.4,-10.9L1.6,-12.3L-1.6,-12.3L-3.4,-10.9L-3.84,-9.35Z" fill="#3030ff"/>
<path transform="translate(1257.72,610.34)" d="M-12.6,8L12.6,8L3.84,-9.35L3.4,-10.9L1.6,-12.3L-1.6,-12.3L-3.4,-10.9L-3.84,-9.35Z" fill="#3030ff"/>
<path d="M751.7,108.44L762.24,176.27L772.78,234.38L783.33,284.21L793.87,327.41L804.41,364.13L814.95,396.12L825.49,423.36L836.04,447.17L846.58,467.75L857.12,485.77L867.66,501L878.2,514.4L888.75,526.18L899.29,536.07L909.83,544.82L920.37,552.56L930.91,559.41L941.46,565.22L952,570.39L962.54,574.99L973.08,579.08L983.62,582.5L994.17,585.57L1004.71,588.32L1015.25,590.79L1025.79,592.92L1036.33,594.84L1046.88,596.57L1057.42,598.12L1067.96,599.28L1078.5,600.35L1089.04,601.32L1099.59,602.21L1110.13,603.16L1120.67,604.01L1131.21,604.78L1141.75,605.48L1152.3,605.94L1162.84,606.37L1173.38,606.77L1183.92,607.14L1194.46,607.44L1205.01,607.73L1215.55,607.99L1226.09,608.24L1236.63,608.49L1247.17,608.72L1257.72,608.93L1268.26,609.13L1278.8,609.24" fill="none" stroke="#ff007f" stroke-width="5.8" stroke-linejoin="round" stroke-linecap="butt"/>
<path transform="translate(751.7,108.44)" d="M0,-8.7L8.7,0L0,8.7L-8.7,0Z" fill="none" stroke="#ff007f" stroke-width="6" stroke-linejoin="miter"/>
<path transform="translate(762.24,176.27)" d="M0,-8.7L8.7,0L0,8.7L-8.7,0Z" fill="none" stroke="#ff007f" stroke-width="6" stroke-linejoin="miter"/>
<path transform="translate(772.78,234.38)" d="M0,-8.7L8.7,0L0,8.7L-8.7,0Z" fill="none" stroke="#ff007f" stroke-width="6" stroke-linejoin="miter"/>
<path transform="translate(783.33,284.21)" d="M0,-8.7L8.7,0L0,8.7L-8.7,0Z" fill="none" stroke="#ff007f" stroke-width="6" stroke-linejoin="miter"/>
<path transform="translate(793.87,327.41)" d="M0,-8.7L8.7,0L0,8.7L-8.7,0Z" fill="none" stroke="#ff007f" stroke-width="6" stroke-linejoin="miter"/>
<path transform="translate(814.95,396.12)" d="M0,-8.7L8.7,0L0,8.7L-8.7,0Z" fill="none" stroke="#ff007f" stroke-width="6" stroke-linejoin="miter"/>
<path transform="translate(836.04,447.17)" d="M0,-8.7L8.7,0L0,8.7L-8.7,0Z" fill="none" stroke="#ff007f" stroke-width="6" stroke-linejoin="miter"/>
<path transform="translate(857.12,485.77)" d="M0,-8.7L8.7,0L0,8.7L-8.7,0Z" fill="none" stroke="#ff007f" stroke-width="6" stroke-linejoin="miter"/>
<path transform="translate(888.75,526.18)" d="M0,-8.7L8.7,0L0,8.7L-8.7,0Z" fill="none" stroke="#ff007f" stroke-width="6" stroke-linejoin="miter"/>
<path transform="translate(930.91,559.41)" d="M0,-8.7L8.7,0L0,8.7L-8.7,0Z" fill="none" stroke="#ff007f" stroke-width="6" stroke-linejoin="miter"/>
<path transform="translate(973.08,579.08)" d="M0,-8.7L8.7,0L0,8.7L-8.7,0Z" fill="none" stroke="#ff007f" stroke-width="6" stroke-linejoin="miter"/>
<path transform="translate(1015.25,590.79)" d="M0,-8.7L8.7,0L0,8.7L-8.7,0Z" fill="none" stroke="#ff007f" stroke-width="6" stroke-linejoin="miter"/>
<path transform="translate(1057.42,598.12)" d="M0,-8.7L8.7,0L0,8.7L-8.7,0Z" fill="none" stroke="#ff007f" stroke-width="6" stroke-linejoin="miter"/>
<path transform="translate(1099.59,602.21)" d="M0,-8.7L8.7,0L0,8.7L-8.7,0Z" fill="none" stroke="#ff007f" stroke-width="6" stroke-linejoin="miter"/>
<path transform="translate(1141.75,605.48)" d="M0,-8.7L8.7,0L0,8.7L-8.7,0Z" fill="none" stroke="#ff007f" stroke-width="6" stroke-linejoin="miter"/>
<path transform="translate(1183.92,607.14)" d="M0,-8.7L8.7,0L0,8.7L-8.7,0Z" fill="none" stroke="#ff007f" stroke-width="6" stroke-linejoin="miter"/>
<path transform="translate(1226.09,608.24)" d="M0,-8.7L8.7,0L0,8.7L-8.7,0Z" fill="none" stroke="#ff007f" stroke-width="6" stroke-linejoin="miter"/>
<path transform="translate(1268.26,609.13)" d="M0,-8.7L8.7,0L0,8.7L-8.7,0Z" fill="none" stroke="#ff007f" stroke-width="6" stroke-linejoin="miter"/>
<path d="M751.7,80.1 V622.9 H1280.5" fill="none" stroke="#000" stroke-width="3.4" stroke-linejoin="miter" stroke-linecap="butt"/>
<path d="M751.7,612h14.2M751.7,523.62h14.2M751.7,435.23h14.2M751.7,346.85h14.2M751.7,258.47h14.2M751.7,170.08h14.2M751.7,81.7h14.2M751.7,622.9v-13.7M857.12,622.9v-13.7M962.54,622.9v-13.7M1067.96,622.9v-13.7M1173.38,622.9v-13.7M1278.8,622.9v-13.7" fill="none" stroke="#000" stroke-width="3.2"/>
<path d="M751.7,594.32h8.4M751.7,576.65h8.4M751.7,558.97h8.4M751.7,541.29h8.4M751.7,505.94h8.4M751.7,488.26h8.4M751.7,470.59h8.4M751.7,452.91h8.4M751.7,417.56h8.4M751.7,399.88h8.4M751.7,382.2h8.4M751.7,364.53h8.4M751.7,329.17h8.4M751.7,311.5h8.4M751.7,293.82h8.4M751.7,276.14h8.4M751.7,240.79h8.4M751.7,223.11h8.4M751.7,205.44h8.4M751.7,187.76h8.4M751.7,152.41h8.4M751.7,134.73h8.4M751.7,117.05h8.4M751.7,99.38h8.4M772.78,622.9v-8.3M793.87,622.9v-8.3M814.95,622.9v-8.3M836.04,622.9v-8.3M878.2,622.9v-8.3M899.29,622.9v-8.3M920.37,622.9v-8.3M941.46,622.9v-8.3M983.62,622.9v-8.3M1004.71,622.9v-8.3M1025.79,622.9v-8.3M1046.88,622.9v-8.3M1089.04,622.9v-8.3M1110.13,622.9v-8.3M1131.21,622.9v-8.3M1152.3,622.9v-8.3M1194.46,622.9v-8.3M1215.55,622.9v-8.3M1236.63,622.9v-8.3M1257.72,622.9v-8.3" fill="none" stroke="#000" stroke-width="1.7"/>
<g font-family='"Liberation Sans", Arial, Helvetica, sans-serif' font-weight="bold" font-size="22px" fill="#000">
<rect x="731.3" y="603.5" width="14.3" height="17" fill="#fff"/>
<text x="744.1" y="619.45" text-anchor="end">0</text>
<rect x="706.7" y="515.12" width="38.9" height="17" fill="#fff"/>
<text x="744.1" y="531.07" text-anchor="end">400</text>
<rect x="706.7" y="426.73" width="38.9" height="17" fill="#fff"/>
<text x="744.1" y="442.68" text-anchor="end">800</text>
<rect x="694.4" y="338.35" width="51.2" height="17" fill="#fff"/>
<text x="744.1" y="354.3" text-anchor="end">1200</text>
<rect x="694.4" y="249.97" width="51.2" height="17" fill="#fff"/>
<text x="744.1" y="265.92" text-anchor="end">1600</text>
<rect x="694.4" y="161.58" width="51.2" height="17" fill="#fff"/>
<text x="744.1" y="177.53" text-anchor="end">2000</text>
<rect x="694.4" y="73.2" width="51.2" height="17" fill="#fff"/>
<text x="744.1" y="89.15" text-anchor="end">2400</text>
<text x="751.7" y="644.4" text-anchor="middle">0</text>
<text x="857.12" y="644.4" text-anchor="middle">0.1</text>
<text x="962.54" y="644.4" text-anchor="middle">0.2</text>
<text x="1067.96" y="644.4" text-anchor="middle">0.3</text>
<text x="1173.38" y="644.4" text-anchor="middle">0.4</text>
<text x="1278.8" y="644.4" text-anchor="middle">0.5</text>
</g>
<text transform="translate(1015.25,682.1) scale(0.96,1)" text-anchor="middle" font-family='"Liberation Sans", Arial, Helvetica, sans-serif' font-weight="bold" font-size="36px" fill="#000" stroke="#000" stroke-width="0.4">X</text>
<text x="667.5" y="313.5" font-family='"Liberation Sans", Arial, Helvetica, sans-serif' font-weight="bold" font-size="39.8px" fill="#000">N</text>
<text x="696.3" y="326.3" font-family='"Liberation Sans", Arial, Helvetica, sans-serif' font-weight="bold" font-size="24.6px" fill="#000">S</text>
<text x="700.65" y="42.4" font-family='"Liberation Sans", Arial, Helvetica, sans-serif' font-weight="bold" font-size="38.5px" fill="#000">b</text>
<g font-family='"Liberation Serif", "Times New Roman", Times, serif' font-size="40px" fill="#000" stroke="#000" stroke-width="0.3">
<text transform="translate(801.35,134) scale(0.9625,1)">T</text>
<text x="825.3" y="145.75" font-size="25px">γ</text>
<text transform="translate(842.3,136.4) scale(1.167,1)" font-size="38.5px">=</text>
<text transform="translate(875.4,134) scale(0.9625,1)">1.6</text>
<text transform="translate(800.8,172.9) scale(1.21,1.04)" font-size="38.5px">λ</text>
<text transform="translate(830.1,175.7) scale(1.167,1)" font-size="38.5px">=</text>
<text transform="translate(862.7,172.8) scale(0.9625,1)">0.3</text>
</g>
<rect x="986.5" y="82.5" width="291.5" height="208.3" fill="#fff" stroke="#000" stroke-width="1.6"/>
<path d="M984.5,81.7 H1278.8 V292" fill="none" stroke="#000" stroke-width="3.2" stroke-linejoin="miter"/>
<path d="M1011.15,136.5H1137.8" stroke="#cc0000" stroke-width="5.8" fill="none"/>
<path transform="translate(1074.47,136.5)" d="M-10.9,0A10.9,11.8 0 1 0 10.9,0A10.9,11.8 0 1 0 -10.9,0ZM-5.5,0A5.5,5.7 0 1 1 5.5,0A5.5,5.7 0 1 1 -5.5,0Z" fill="#cc0000" fill-rule="evenodd"/>
<g font-family='"Liberation Sans", Arial, Helvetica, sans-serif' font-weight="bold" font-size="29px" fill="#000" stroke="#000" stroke-width="0.5" stroke-linejoin="round">
<text x="1158.6" y="145.2">S</text>
<text x="1178.65" y="152.55" font-size="17px">h</text>
<text x="1195.9" y="146.7">=</text>
<text x="1221.35" y="145.2">10</text>
</g>
<path d="M1011.15,175.9H1137.8" stroke="#00cc00" stroke-width="5.8" fill="none"/>
<path transform="translate(1074.47,175.9) rotate(30)" d="M-12.6,8L12.6,8L3.84,-9.35L3.4,-10.9L1.6,-12.3L-1.6,-12.3L-3.4,-10.9L-3.84,-9.35Z" fill="#00cc00"/>
<g font-family='"Liberation Sans", Arial, Helvetica, sans-serif' font-weight="bold" font-size="29px" fill="#000" stroke="#000" stroke-width="0.5" stroke-linejoin="round">
<text x="1158.6" y="184.6">S</text>
<text x="1178.65" y="191.95" font-size="17px">h</text>
<text x="1195.9" y="186.1">=</text>
<text x="1221.35" y="184.6">30</text>
</g>
<path d="M1011.15,215H1137.8" stroke="#3030ff" stroke-width="5.8" fill="none"/>
<path transform="translate(1074.47,215)" d="M-12.6,8L12.6,8L3.84,-9.35L3.4,-10.9L1.6,-12.3L-1.6,-12.3L-3.4,-10.9L-3.84,-9.35Z" fill="#3030ff"/>
<g font-family='"Liberation Sans", Arial, Helvetica, sans-serif' font-weight="bold" font-size="29px" fill="#000" stroke="#000" stroke-width="0.5" stroke-linejoin="round">
<text x="1158.6" y="223.7">S</text>
<text x="1178.65" y="231.05" font-size="17px">h</text>
<text x="1195.9" y="225.2">=</text>
<text x="1221.35" y="223.7">60</text>
</g>
<path d="M1011.15,254.6H1137.8" stroke="#ff007f" stroke-width="5.8" fill="none"/>
<path transform="translate(1074.47,254.6)" d="M0,-8.7L8.7,0L0,8.7L-8.7,0Z" fill="none" stroke="#ff007f" stroke-width="6" stroke-linejoin="miter"/>
<g font-family='"Liberation Sans", Arial, Helvetica, sans-serif' font-weight="bold" font-size="29px" fill="#000" stroke="#000" stroke-width="0.5" stroke-linejoin="round">
<text x="1158.6" y="263.3">S</text>
<text x="1178.65" y="270.65" font-size="17px">h</text>
<text x="1195.9" y="264.8">=</text>
<text x="1221.35" y="263.3">90</text>
</g>
</g>
<g>
<path d="M1416.25,81.7 H1945.2 V624.5" fill="none" stroke="#000" stroke-width="3.2" stroke-linejoin="miter"/>
<path d="M1417.85,608.4L1428.4,608.67L1438.94,608.92L1449.49,609.16L1460.04,609.39L1470.59,609.58L1481.13,609.76L1491.68,609.94L1502.23,610.1L1512.77,610.29L1523.32,610.47L1533.87,610.64L1544.41,610.8L1554.96,610.9L1565.51,611.01L1576.05,611.11L1586.6,611.2L1597.15,611.37L1607.7,611.52L1618.24,611.67L1628.79,611.81L1639.34,611.93L1649.88,612.04L1660.43,612.15L1670.98,612.25L1681.53,612.33L1692.07,612.41L1702.62,612.48L1713.17,612.55L1723.71,612.61L1734.26,612.67L1744.81,612.73L1755.35,612.78L1765.9,612.83L1776.45,612.88L1786.99,612.93L1797.54,612.98L1808.09,613.03L1818.64,613.07L1829.18,613.11L1839.73,613.15L1850.28,613.19L1860.82,613.23L1871.37,613.26L1881.92,613.3L1892.47,613.33L1903.01,613.35L1913.56,613.38L1924.11,613.4L1934.65,613.42L1945.2,613.44" fill="none" stroke="#cc0000" stroke-width="5.8" stroke-linejoin="round" stroke-linecap="butt"/>
<path transform="translate(1417.85,608.4)" d="M-10.9,0A10.9,11.8 0 1 0 10.9,0A10.9,11.8 0 1 0 -10.9,0ZM-5.5,0A5.5,5.7 0 1 1 5.5,0A5.5,5.7 0 1 1 -5.5,0Z" fill="#cc0000" fill-rule="evenodd"/>
<path transform="translate(1460.04,609.39)" d="M-10.9,0A10.9,11.8 0 1 0 10.9,0A10.9,11.8 0 1 0 -10.9,0ZM-5.5,0A5.5,5.7 0 1 1 5.5,0A5.5,5.7 0 1 1 -5.5,0Z" fill="#cc0000" fill-rule="evenodd"/>
<path transform="translate(1502.23,610.1)" d="M-10.9,0A10.9,11.8 0 1 0 10.9,0A10.9,11.8 0 1 0 -10.9,0ZM-5.5,0A5.5,5.7 0 1 1 5.5,0A5.5,5.7 0 1 1 -5.5,0Z" fill="#cc0000" fill-rule="evenodd"/>
<path transform="translate(1544.41,610.8)" d="M-10.9,0A10.9,11.8 0 1 0 10.9,0A10.9,11.8 0 1 0 -10.9,0ZM-5.5,0A5.5,5.7 0 1 1 5.5,0A5.5,5.7 0 1 1 -5.5,0Z" fill="#cc0000" fill-rule="evenodd"/>
<path transform="translate(1586.6,611.2)" d="M-10.9,0A10.9,11.8 0 1 0 10.9,0A10.9,11.8 0 1 0 -10.9,0ZM-5.5,0A5.5,5.7 0 1 1 5.5,0A5.5,5.7 0 1 1 -5.5,0Z" fill="#cc0000" fill-rule="evenodd"/>
<path transform="translate(1628.79,611.81)" d="M-10.9,0A10.9,11.8 0 1 0 10.9,0A10.9,11.8 0 1 0 -10.9,0ZM-5.5,0A5.5,5.7 0 1 1 5.5,0A5.5,5.7 0 1 1 -5.5,0Z" fill="#cc0000" fill-rule="evenodd"/>
<path transform="translate(1670.98,612.25)" d="M-10.9,0A10.9,11.8 0 1 0 10.9,0A10.9,11.8 0 1 0 -10.9,0ZM-5.5,0A5.5,5.7 0 1 1 5.5,0A5.5,5.7 0 1 1 -5.5,0Z" fill="#cc0000" fill-rule="evenodd"/>
<path transform="translate(1713.17,612.55)" d="M-10.9,0A10.9,11.8 0 1 0 10.9,0A10.9,11.8 0 1 0 -10.9,0ZM-5.5,0A5.5,5.7 0 1 1 5.5,0A5.5,5.7 0 1 1 -5.5,0Z" fill="#cc0000" fill-rule="evenodd"/>
<path transform="translate(1755.35,612.78)" d="M-10.9,0A10.9,11.8 0 1 0 10.9,0A10.9,11.8 0 1 0 -10.9,0ZM-5.5,0A5.5,5.7 0 1 1 5.5,0A5.5,5.7 0 1 1 -5.5,0Z" fill="#cc0000" fill-rule="evenodd"/>
<path transform="translate(1797.54,612.98)" d="M-10.9,0A10.9,11.8 0 1 0 10.9,0A10.9,11.8 0 1 0 -10.9,0ZM-5.5,0A5.5,5.7 0 1 1 5.5,0A5.5,5.7 0 1 1 -5.5,0Z" fill="#cc0000" fill-rule="evenodd"/>
<path transform="translate(1839.73,613.15)" d="M-10.9,0A10.9,11.8 0 1 0 10.9,0A10.9,11.8 0 1 0 -10.9,0ZM-5.5,0A5.5,5.7 0 1 1 5.5,0A5.5,5.7 0 1 1 -5.5,0Z" fill="#cc0000" fill-rule="evenodd"/>
<path transform="translate(1881.92,613.3)" d="M-10.9,0A10.9,11.8 0 1 0 10.9,0A10.9,11.8 0 1 0 -10.9,0ZM-5.5,0A5.5,5.7 0 1 1 5.5,0A5.5,5.7 0 1 1 -5.5,0Z" fill="#cc0000" fill-rule="evenodd"/>
<path transform="translate(1924.11,613.4)" d="M-10.9,0A10.9,11.8 0 1 0 10.9,0A10.9,11.8 0 1 0 -10.9,0ZM-5.5,0A5.5,5.7 0 1 1 5.5,0A5.5,5.7 0 1 1 -5.5,0Z" fill="#cc0000" fill-rule="evenodd"/>
<path d="M1417.85,559.7L1428.4,563.69L1438.94,567.39L1449.49,570.81L1460.04,573.99L1470.59,576.77L1481.13,579.36L1491.68,581.77L1502.23,584.01L1512.77,586.21L1523.32,588.26L1533.87,590.15L1544.41,591.9L1554.96,593.6L1565.51,595.16L1576.05,596.6L1586.6,597.93L1597.15,599.13L1607.7,600.23L1618.24,601.25L1628.79,602.19L1639.34,603.03L1649.88,603.81L1660.43,604.54L1670.98,605.21L1681.53,605.85L1692.07,606.45L1702.62,607L1713.17,607.51L1723.71,607.96L1734.26,608.37L1744.81,608.75L1755.35,609.11L1765.9,609.46L1776.45,609.78L1786.99,610.08L1797.54,610.35L1808.09,610.6L1818.64,610.83L1829.18,611.04L1839.73,611.24L1850.28,611.44L1860.82,611.62L1871.37,611.79L1881.92,611.95L1892.47,612.1L1903.01,612.24L1913.56,612.36L1924.11,612.48L1934.65,612.53L1945.2,612.57" fill="none" stroke="#00cc00" stroke-width="5.8" stroke-linejoin="round" stroke-linecap="butt"/>
<path transform="translate(1417.85,559.7) rotate(30)" d="M-12.6,8L12.6,8L3.84,-9.35L3.4,-10.9L1.6,-12.3L-1.6,-12.3L-3.4,-10.9L-3.84,-9.35Z" fill="#00cc00"/>
<path transform="translate(1460.04,573.99) rotate(30)" d="M-12.6,8L12.6,8L3.84,-9.35L3.4,-10.9L1.6,-12.3L-1.6,-12.3L-3.4,-10.9L-3.84,-9.35Z" fill="#00cc00"/>
<path transform="translate(1502.23,584.01) rotate(30)" d="M-12.6,8L12.6,8L3.84,-9.35L3.4,-10.9L1.6,-12.3L-1.6,-12.3L-3.4,-10.9L-3.84,-9.35Z" fill="#00cc00"/>
<path transform="translate(1544.41,591.9) rotate(30)" d="M-12.6,8L12.6,8L3.84,-9.35L3.4,-10.9L1.6,-12.3L-1.6,-12.3L-3.4,-10.9L-3.84,-9.35Z" fill="#00cc00"/>
<path transform="translate(1586.6,597.93) rotate(30)" d="M-12.6,8L12.6,8L3.84,-9.35L3.4,-10.9L1.6,-12.3L-1.6,-12.3L-3.4,-10.9L-3.84,-9.35Z" fill="#00cc00"/>
<path transform="translate(1628.79,602.19) rotate(30)" d="M-12.6,8L12.6,8L3.84,-9.35L3.4,-10.9L1.6,-12.3L-1.6,-12.3L-3.4,-10.9L-3.84,-9.35Z" fill="#00cc00"/>
<path transform="translate(1670.98,605.21) rotate(30)" d="M-12.6,8L12.6,8L3.84,-9.35L3.4,-10.9L1.6,-12.3L-1.6,-12.3L-3.4,-10.9L-3.84,-9.35Z" fill="#00cc00"/>
<path transform="translate(1713.17,607.51) rotate(30)" d="M-12.6,8L12.6,8L3.84,-9.35L3.4,-10.9L1.6,-12.3L-1.6,-12.3L-3.4,-10.9L-3.84,-9.35Z" fill="#00cc00"/>
<path transform="translate(1755.35,609.11) rotate(30)" d="M-12.6,8L12.6,8L3.84,-9.35L3.4,-10.9L1.6,-12.3L-1.6,-12.3L-3.4,-10.9L-3.84,-9.35Z" fill="#00cc00"/>
<path transform="translate(1797.54,610.35) rotate(30)" d="M-12.6,8L12.6,8L3.84,-9.35L3.4,-10.9L1.6,-12.3L-1.6,-12.3L-3.4,-10.9L-3.84,-9.35Z" fill="#00cc00"/>
<path transform="translate(1839.73,611.24) rotate(30)" d="M-12.6,8L12.6,8L3.84,-9.35L3.4,-10.9L1.6,-12.3L-1.6,-12.3L-3.4,-10.9L-3.84,-9.35Z" fill="#00cc00"/>
<path transform="translate(1881.92,611.95) rotate(30)" d="M-12.6,8L12.6,8L3.84,-9.35L3.4,-10.9L1.6,-12.3L-1.6,-12.3L-3.4,-10.9L-3.84,-9.35Z" fill="#00cc00"/>
<path transform="translate(1924.11,612.48) rotate(30)" d="M-12.6,8L12.6,8L3.84,-9.35L3.4,-10.9L1.6,-12.3L-1.6,-12.3L-3.4,-10.9L-3.84,-9.35Z" fill="#00cc00"/>
<path d="M1417.85,388.07L1428.4,411.65L1438.94,432.77L1449.49,451.35L1460.04,468.02L1470.59,482.98L1481.13,496.29L1491.68,508.25L1502.23,518.99L1512.77,528.18L1523.32,536.48L1533.87,543.98L1544.41,550.75L1554.96,556.85L1565.51,562.37L1576.05,567.35L1586.6,571.86L1597.15,575.67L1607.7,579.14L1618.24,582.29L1628.79,585.16L1639.34,587.75L1649.88,590.11L1660.43,592.26L1670.98,594.21L1681.53,595.99L1692.07,597.61L1702.62,599.08L1713.17,600.42L1723.71,601.64L1734.26,602.75L1744.81,603.76L1755.35,604.68L1765.9,605.49L1776.45,606.22L1786.99,606.9L1797.54,607.51L1808.09,608.07L1818.64,608.58L1829.18,609.04L1839.73,609.47L1850.28,609.87L1860.82,610.24L1871.37,610.58L1881.92,610.88L1892.47,611.14L1903.01,611.37L1913.56,611.58L1924.11,611.77L1934.65,611.91L1945.2,612.04" fill="none" stroke="#3030ff" stroke-width="5.8" stroke-linejoin="round" stroke-linecap="butt"/>
<path transform="translate(1417.85,388.07)" d="M-12.6,8L12.6,8L3.84,-9.35L3.4,-10.9L1.6,-12.3L-1.6,-12.3L-3.4,-10.9L-3.84,-9.35Z" fill="#3030ff"/>
<path transform="translate(1438.94,432.77)" d="M-12.6,8L12.6,8L3.84,-9.35L3.4,-10.9L1.6,-12.3L-1.6,-12.3L-3.4,-10.9L-3.84,-9.35Z" fill="#3030ff"/>
<path transform="translate(1470.59,482.98)" d="M-12.6,8L12.6,8L3.84,-9.35L3.4,-10.9L1.6,-12.3L-1.6,-12.3L-3.4,-10.9L-3.84,-9.35Z" fill="#3030ff"/>
<path transform="translate(1502.23,518.99)" d="M-12.6,8L12.6,8L3.84,-9.35L3.4,-10.9L1.6,-12.3L-1.6,-12.3L-3.4,-10.9L-3.84,-9.35Z" fill="#3030ff"/>
<path transform="translate(1544.41,550.75)" d="M-12.6,8L12.6,8L3.84,-9.35L3.4,-10.9L1.6,-12.3L-1.6,-12.3L-3.4,-10.9L-3.84,-9.35Z" fill="#3030ff"/>
<path transform="translate(1586.6,571.86)" d="M-12.6,8L12.6,8L3.84,-9.35L3.4,-10.9L1.6,-12.3L-1.6,-12.3L-3.4,-10.9L-3.84,-9.35Z" fill="#3030ff"/>
<path transform="translate(1628.79,585.16)" d="M-12.6,8L12.6,8L3.84,-9.35L3.4,-10.9L1.6,-12.3L-1.6,-12.3L-3.4,-10.9L-3.84,-9.35Z" fill="#3030ff"/>
<path transform="translate(1670.98,594.21)" d="M-12.6,8L12.6,8L3.84,-9.35L3.4,-10.9L1.6,-12.3L-1.6,-12.3L-3.4,-10.9L-3.84,-9.35Z" fill="#3030ff"/>
<path transform="translate(1713.17,600.42)" d="M-12.6,8L12.6,8L3.84,-9.35L3.4,-10.9L1.6,-12.3L-1.6,-12.3L-3.4,-10.9L-3.84,-9.35Z" fill="#3030ff"/>
<path transform="translate(1755.35,604.68)" d="M-12.6,8L12.6,8L3.84,-9.35L3.4,-10.9L1.6,-12.3L-1.6,-12.3L-3.4,-10.9L-3.84,-9.35Z" fill="#3030ff"/>
<path transform="translate(1797.54,607.51)" d="M-12.6,8L12.6,8L3.84,-9.35L3.4,-10.9L1.6,-12.3L-1.6,-12.3L-3.4,-10.9L-3.84,-9.35Z" fill="#3030ff"/>
<path transform="translate(1839.73,609.47)" d="M-12.6,8L12.6,8L3.84,-9.35L3.4,-10.9L1.6,-12.3L-1.6,-12.3L-3.4,-10.9L-3.84,-9.35Z" fill="#3030ff"/>
<path transform="translate(1881.92,610.88)" d="M-12.6,8L12.6,8L3.84,-9.35L3.4,-10.9L1.6,-12.3L-1.6,-12.3L-3.4,-10.9L-3.84,-9.35Z" fill="#3030ff"/>
<path transform="translate(1924.11,611.77)" d="M-12.6,8L12.6,8L3.84,-9.35L3.4,-10.9L1.6,-12.3L-1.6,-12.3L-3.4,-10.9L-3.84,-9.35Z" fill="#3030ff"/>
<path d="M1417.85,101.21L1428.4,167.21L1438.94,224.33L1449.49,274L1460.04,316.58L1470.59,353.66L1481.13,386.12L1491.68,413.69L1502.23,437.92L1512.77,458.8L1523.32,477.2L1533.87,493.41L1544.41,507.71L1554.96,520.3L1565.51,530.8L1576.05,540.13L1586.6,548.4L1597.15,555.59L1607.7,561.98L1618.24,567.67L1628.79,572.74L1639.34,577.07L1649.88,580.94L1660.43,584.4L1670.98,587.5L1681.53,590.12L1692.07,592.48L1702.62,594.6L1713.17,596.51L1723.71,598.06L1734.26,599.46L1744.81,600.74L1755.35,601.91L1765.9,602.93L1776.45,603.86L1786.99,604.71L1797.54,605.49L1808.09,606.17L1818.64,606.8L1829.18,607.37L1839.73,607.9L1850.28,608.38L1860.82,608.83L1871.37,609.23L1881.92,609.61L1892.47,609.82L1903.01,610.03L1913.56,610.22L1924.11,610.41L1934.65,610.51L1945.2,610.62" fill="none" stroke="#ff007f" stroke-width="5.8" stroke-linejoin="round" stroke-linecap="butt"/>
<path transform="translate(1417.85,101.21)" d="M0,-8.7L8.7,0L0,8.7L-8.7,0Z" fill="none" stroke="#ff007f" stroke-width="6" stroke-linejoin="miter"/>
<path transform="translate(1428.4,167.21)" d="M0,-8.7L8.7,0L0,8.7L-8.7,0Z" fill="none" stroke="#ff007f" stroke-width="6" stroke-linejoin="miter"/>
<path transform="translate(1438.94,224.33)" d="M0,-8.7L8.7,0L0,8.7L-8.7,0Z" fill="none" stroke="#ff007f" stroke-width="6" stroke-linejoin="miter"/>
<path transform="translate(1449.49,274)" d="M0,-8.7L8.7,0L0,8.7L-8.7,0Z" fill="none" stroke="#ff007f" stroke-width="6" stroke-linejoin="miter"/>
<path transform="translate(1460.04,316.58)" d="M0,-8.7L8.7,0L0,8.7L-8.7,0Z" fill="none" stroke="#ff007f" stroke-width="6" stroke-linejoin="miter"/>
<path transform="translate(1481.13,386.12)" d="M0,-8.7L8.7,0L0,8.7L-8.7,0Z" fill="none" stroke="#ff007f" stroke-width="6" stroke-linejoin="miter"/>
<path transform="translate(1502.23,437.92)" d="M0,-8.7L8.7,0L0,8.7L-8.7,0Z" fill="none" stroke="#ff007f" stroke-width="6" stroke-linejoin="miter"/>
<path transform="translate(1523.32,477.2)" d="M0,-8.7L8.7,0L0,8.7L-8.7,0Z" fill="none" stroke="#ff007f" stroke-width="6" stroke-linejoin="miter"/>
<path transform="translate(1554.96,520.3)" d="M0,-8.7L8.7,0L0,8.7L-8.7,0Z" fill="none" stroke="#ff007f" stroke-width="6" stroke-linejoin="miter"/>
<path transform="translate(1586.6,548.4)" d="M0,-8.7L8.7,0L0,8.7L-8.7,0Z" fill="none" stroke="#ff007f" stroke-width="6" stroke-linejoin="miter"/>
<path transform="translate(1628.79,572.74)" d="M0,-8.7L8.7,0L0,8.7L-8.7,0Z" fill="none" stroke="#ff007f" stroke-width="6" stroke-linejoin="miter"/>
<path transform="translate(1670.98,587.5)" d="M0,-8.7L8.7,0L0,8.7L-8.7,0Z" fill="none" stroke="#ff007f" stroke-width="6" stroke-linejoin="miter"/>
<path transform="translate(1713.17,596.51)" d="M0,-8.7L8.7,0L0,8.7L-8.7,0Z" fill="none" stroke="#ff007f" stroke-width="6" stroke-linejoin="miter"/>
<path transform="translate(1755.35,601.91)" d="M0,-8.7L8.7,0L0,8.7L-8.7,0Z" fill="none" stroke="#ff007f" stroke-width="6" stroke-linejoin="miter"/>
<path transform="translate(1797.54,605.49)" d="M0,-8.7L8.7,0L0,8.7L-8.7,0Z" fill="none" stroke="#ff007f" stroke-width="6" stroke-linejoin="miter"/>
<path transform="translate(1839.73,607.9)" d="M0,-8.7L8.7,0L0,8.7L-8.7,0Z" fill="none" stroke="#ff007f" stroke-width="6" stroke-linejoin="miter"/>
<path transform="translate(1881.92,609.61)" d="M0,-8.7L8.7,0L0,8.7L-8.7,0Z" fill="none" stroke="#ff007f" stroke-width="6" stroke-linejoin="miter"/>
<path transform="translate(1924.11,610.41)" d="M0,-8.7L8.7,0L0,8.7L-8.7,0Z" fill="none" stroke="#ff007f" stroke-width="6" stroke-linejoin="miter"/>
<path d="M1417.85,80.1 V622.9 H1946.9" fill="none" stroke="#000" stroke-width="3.4" stroke-linejoin="miter" stroke-linecap="butt"/>
<path d="M1417.85,613.9h14.2M1417.85,525.2h14.2M1417.85,436.5h14.2M1417.85,347.8h14.2M1417.85,259.1h14.2M1417.85,170.4h14.2M1417.85,81.7h14.2M1417.85,622.9v-13.7M1523.32,622.9v-13.7M1628.79,622.9v-13.7M1734.26,622.9v-13.7M1839.73,622.9v-13.7M1945.2,622.9v-13.7" fill="none" stroke="#000" stroke-width="3.2"/>
<path d="M1417.85,596.16h8.4M1417.85,578.42h8.4M1417.85,560.68h8.4M1417.85,542.94h8.4M1417.85,507.46h8.4M1417.85,489.72h8.4M1417.85,471.98h8.4M1417.85,454.24h8.4M1417.85,418.76h8.4M1417.85,401.02h8.4M1417.85,383.28h8.4M1417.85,365.54h8.4M1417.85,330.06h8.4M1417.85,312.32h8.4M1417.85,294.58h8.4M1417.85,276.84h8.4M1417.85,241.36h8.4M1417.85,223.62h8.4M1417.85,205.88h8.4M1417.85,188.14h8.4M1417.85,152.66h8.4M1417.85,134.92h8.4M1417.85,117.18h8.4M1417.85,99.44h8.4M1438.94,622.9v-8.3M1460.04,622.9v-8.3M1481.13,622.9v-8.3M1502.23,622.9v-8.3M1544.41,622.9v-8.3M1565.51,622.9v-8.3M1586.6,622.9v-8.3M1607.7,622.9v-8.3M1649.88,622.9v-8.3M1670.98,622.9v-8.3M1692.07,622.9v-8.3M1713.17,622.9v-8.3M1755.35,622.9v-8.3M1776.45,622.9v-8.3M1797.54,622.9v-8.3M1818.64,622.9v-8.3M1860.82,622.9v-8.3M1881.92,622.9v-8.3M1903.01,622.9v-8.3M1924.11,622.9v-8.3" fill="none" stroke="#000" stroke-width="1.7"/>
<g font-family='"Liberation Sans", Arial, Helvetica, sans-serif' font-weight="bold" font-size="22px" fill="#000">
<rect x="1397.45" y="605.4" width="14.3" height="17" fill="#fff"/>
<text x="1410.25" y="621.35" text-anchor="end">0</text>
<rect x="1372.85" y="516.7" width="38.9" height="17" fill="#fff"/>
<text x="1410.25" y="532.65" text-anchor="end">500</text>
<rect x="1360.55" y="428" width="51.2" height="17" fill="#fff"/>
<text x="1410.25" y="443.95" text-anchor="end">1000</text>
<rect x="1360.55" y="339.3" width="51.2" height="17" fill="#fff"/>
<text x="1410.25" y="355.25" text-anchor="end">1500</text>
<rect x="1360.55" y="250.6" width="51.2" height="17" fill="#fff"/>
<text x="1410.25" y="266.55" text-anchor="end">2000</text>
<rect x="1360.55" y="161.9" width="51.2" height="17" fill="#fff"/>
<text x="1410.25" y="177.85" text-anchor="end">2500</text>
<rect x="1360.55" y="73.2" width="51.2" height="17" fill="#fff"/>
<text x="1410.25" y="89.15" text-anchor="end">3000</text>
<text x="1417.85" y="644.4" text-anchor="middle">0</text>
<text x="1523.32" y="644.4" text-anchor="middle">0.1</text>
<text x="1628.79" y="644.4" text-anchor="middle">0.2</text>
<text x="1734.26" y="644.4" text-anchor="middle">0.3</text>
<text x="1839.73" y="644.4" text-anchor="middle">0.4</text>
<text x="1945.2" y="644.4" text-anchor="middle">0.5</text>
</g>
<text transform="translate(1681.53,682.1) scale(0.96,1)" text-anchor="middle" font-family='"Liberation Sans", Arial, Helvetica, sans-serif' font-weight="bold" font-size="36px" fill="#000" stroke="#000" stroke-width="0.4">X</text>
<text x="1333.65" y="313.5" font-family='"Liberation Sans", Arial, Helvetica, sans-serif' font-weight="bold" font-size="39.8px" fill="#000">N</text>
<text x="1362.45" y="326.3" font-family='"Liberation Sans", Arial, Helvetica, sans-serif' font-weight="bold" font-size="24.6px" fill="#000">S</text>
<text x="1360.5" y="37.4" font-family='"Liberation Sans", Arial, Helvetica, sans-serif' font-weight="bold" font-size="39.3px" fill="#000">c</text>
<g font-family='"Liberation Serif", "Times New Roman", Times, serif' font-size="40px" fill="#000" stroke="#000" stroke-width="0.3">
<text transform="translate(1467.5,134) scale(0.9625,1)">T</text>
<text x="1491.45" y="145.75" font-size="25px">γ</text>
<text transform="translate(1508.45,136.4) scale(1.167,1)" font-size="38.5px">=</text>
<text transform="translate(1541.55,134) scale(0.9625,1)">1.9</text>
<text transform="translate(1466.95,172.9) scale(1.21,1.04)" font-size="38.5px">λ</text>
<text transform="translate(1496.25,175.7) scale(1.167,1)" font-size="38.5px">=</text>
<text transform="translate(1528.85,172.8) scale(0.9625,1)">0.3</text>
</g>
<rect x="1652.9" y="82.5" width="291.5" height="208.3" fill="#fff" stroke="#000" stroke-width="1.6"/>
<path d="M1650.9,81.7 H1945.2 V292" fill="none" stroke="#000" stroke-width="3.2" stroke-linejoin="miter"/>
<path d="M1677.4,136.5H1804.05" stroke="#cc0000" stroke-width="5.8" fill="none"/>
<path transform="translate(1740.72,136.5)" d="M-10.9,0A10.9,11.8 0 1 0 10.9,0A10.9,11.8 0 1 0 -10.9,0ZM-5.5,0A5.5,5.7 0 1 1 5.5,0A5.5,5.7 0 1 1 -5.5,0Z" fill="#cc0000" fill-rule="evenodd"/>
<g font-family='"Liberation Sans", Arial, Helvetica, sans-serif' font-weight="bold" font-size="29px" fill="#000" stroke="#000" stroke-width="0.5" stroke-linejoin="round">
<text x="1824.85" y="145.2">S</text>
<text x="1844.9" y="152.55" font-size="17px">h</text>
<text x="1862.15" y="146.7">=</text>
<text x="1887.6" y="145.2">10</text>
</g>
<path d="M1677.4,175.9H1804.05" stroke="#00cc00" stroke-width="5.8" fill="none"/>
<path transform="translate(1740.72,175.9) rotate(30)" d="M-12.6,8L12.6,8L3.84,-9.35L3.4,-10.9L1.6,-12.3L-1.6,-12.3L-3.4,-10.9L-3.84,-9.35Z" fill="#00cc00"/>
<g font-family='"Liberation Sans", Arial, Helvetica, sans-serif' font-weight="bold" font-size="29px" fill="#000" stroke="#000" stroke-width="0.5" stroke-linejoin="round">
<text x="1824.85" y="184.6">S</text>
<text x="1844.9" y="191.95" font-size="17px">h</text>
<text x="1862.15" y="186.1">=</text>
<text x="1887.6" y="184.6">30</text>
</g>
<path d="M1677.4,215H1804.05" stroke="#3030ff" stroke-width="5.8" fill="none"/>
<path transform="translate(1740.72,215)" d="M-12.6,8L12.6,8L3.84,-9.35L3.4,-10.9L1.6,-12.3L-1.6,-12.3L-3.4,-10.9L-3.84,-9.35Z" fill="#3030ff"/>
<g font-family='"Liberation Sans", Arial, Helvetica, sans-serif' font-weight="bold" font-size="29px" fill="#000" stroke="#000" stroke-width="0.5" stroke-linejoin="round">
<text x="1824.85" y="223.7">S</text>
<text x="1844.9" y="231.05" font-size="17px">h</text>
<text x="1862.15" y="225.2">=</text>
<text x="1887.6" y="223.7">60</text>
</g>
<path d="M1677.4,254.6H1804.05" stroke="#ff007f" stroke-width="5.8" fill="none"/>
<path transform="translate(1740.72,254.6)" d="M0,-8.7L8.7,0L0,8.7L-8.7,0Z" fill="none" stroke="#ff007f" stroke-width="6" stroke-linejoin="miter"/>
<g font-family='"Liberation Sans", Arial, Helvetica, sans-serif' font-weight="bold" font-size="29px" fill="#000" stroke="#000" stroke-width="0.5" stroke-linejoin="round">
<text x="1824.85" y="263.3">S</text>
<text x="1844.9" y="270.65" font-size="17px">h</text>
<text x="1862.15" y="264.8">=</text>
<text x="1887.6" y="263.3">90</text>
</g>
</g>
</svg>
</body>
</html>
